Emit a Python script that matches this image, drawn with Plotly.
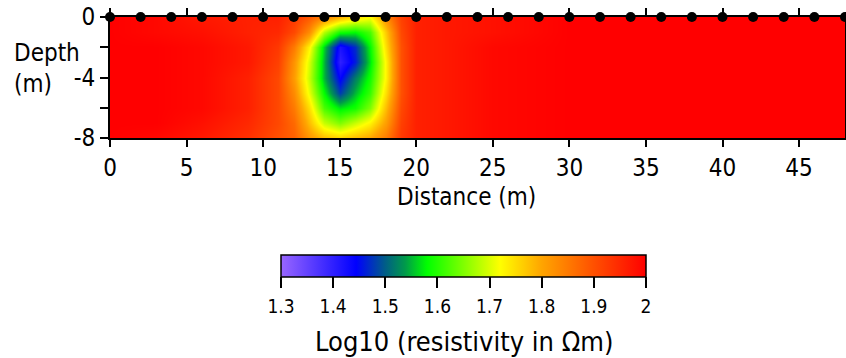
import plotly.graph_objects as go

# Inverted resistivity section (log10 of resistivity in ohm-m)
distance_nodes = [0, 3, 6, 9, 11, 12, 13, 14, 15, 16, 17, 18, 19, 20, 22, 25, 30, 36, 42, 48]
depth_nodes = [0, -1, -2, -3, -4, -5, -6, -7, -8]

log_rho_d0 = [2.0, 1.99, 1.97, 1.96, 1.96, 1.93, 1.89, 1.84, 1.79, 1.75, 1.72, 1.83, 1.92, 1.96, 1.97, 1.98, 2.0, 2.0, 2.0, 2.0]
log_rho_d1 = [2.0, 1.99, 1.98, 1.96, 1.95, 1.91, 1.83, 1.68, 1.59, 1.58, 1.62, 1.77, 1.91, 1.96, 1.97, 1.98, 2.0, 2.0, 2.0, 2.0]
log_rho_d2 = [2.0, 2.0, 1.99, 1.97, 1.93, 1.85, 1.73, 1.56, 1.42, 1.47, 1.58, 1.75, 1.90, 1.96, 1.97, 1.99, 2.0, 2.0, 2.0, 2.0]
log_rho_d3 = [2.0, 2.0, 1.99, 1.97, 1.92, 1.82, 1.70, 1.55, 1.40, 1.46, 1.57, 1.73, 1.90, 1.96, 1.97, 1.99, 2.0, 2.0, 2.0, 2.0]
log_rho_d4 = [2.0, 2.0, 1.99, 1.96, 1.91, 1.81, 1.69, 1.55, 1.44, 1.52, 1.59, 1.73, 1.90, 1.96, 1.97, 1.99, 2.0, 2.0, 2.0, 2.0]
log_rho_d5 = [2.0, 2.0, 1.99, 1.96, 1.91, 1.83, 1.71, 1.58, 1.48, 1.55, 1.61, 1.75, 1.90, 1.96, 1.97, 1.99, 2.0, 2.0, 2.0, 2.0]
log_rho_d6 = [2.0, 2.0, 1.99, 1.96, 1.91, 1.85, 1.75, 1.62, 1.57, 1.59, 1.65, 1.78, 1.91, 1.96, 1.97, 1.99, 2.0, 2.0, 2.0, 2.0]
log_rho_d7 = [2.0, 2.0, 1.98, 1.95, 1.91, 1.87, 1.78, 1.69, 1.65, 1.69, 1.73, 1.81, 1.92, 1.96, 1.97, 1.99, 2.0, 2.0, 2.0, 2.0]
log_rho_d8 = [2.0, 1.99, 1.97, 1.94, 1.90, 1.88, 1.82, 1.78, 1.76, 1.78, 1.80, 1.85, 1.93, 1.96, 1.97, 1.99, 2.0, 2.0, 2.0, 2.0]

# Electrode positions along the surface
electrode_x = [0, 2, 4, 6, 8, 10, 12, 14, 16, 18, 20, 22, 24, 26, 28, 30, 32, 34, 36, 38, 40, 42, 44, 46, 48]
electrode_y = [0] * len(electrode_x)

x_ticks = [0, 5, 10, 15, 20, 25, 30, 35, 40, 45]
y_ticks = [0, -2, -4, -6, -8]
y_tick_text = ["0", "", "-4", "", "-8"]
cb_ticks = [1.3, 1.4, 1.5, 1.6, 1.7, 1.8, 1.9, 2.0]
cb_tick_text = ["1.3", "1.4", "1.5", "1.6", "1.7", "1.8", "1.9", "2"]

z_min, z_max = 1.3, 2.0

colorscale = [
    [0.0, "#9966ff"],
    [0.206, "#0000ff"],
    [0.286, "#005e86"],
    [0.34, "#009a4a"],
    [0.40, "#00ff00"],
    [0.60, "#ffff00"],
    [0.714, "#ffa500"],
    [0.857, "#ff5000"],
    [1.0, "#ff0000"],
]

FONT = "DejaVu Sans Condensed, DejaVu Sans, sans-serif"

W, H = 846, 358
L, R, T, B = 110, 1, 17, 0
plot_w = W - L - R
plot_h = H - T - B


def px_to_paper_x(px):
    return (px - L) / plot_w


def px_to_paper_y(py):
    return (H - B - py) / plot_h


# pixel geometry of the section and the colour bar
SECTION_BOTTOM = 138
CB_LEFT, CB_RIGHT, CB_TOP = 281, 646, 255
CB_LABEL_CENTER = 308

fig = go.Figure()

fig.add_trace(go.Heatmap(
    x=distance_nodes,
    y=depth_nodes,
    z=[log_rho_d0, log_rho_d1, log_rho_d2, log_rho_d3, log_rho_d4,
       log_rho_d5, log_rho_d6, log_rho_d7, log_rho_d8],
    zmin=z_min,
    zmax=z_max,
    zsmooth="best",
    colorscale=colorscale,
    colorbar=dict(
        orientation="h",
        x=px_to_paper_x((CB_LEFT + CB_RIGHT) / 2),
        xanchor="center",
        y=px_to_paper_y(CB_TOP),
        yanchor="top",
        lenmode="pixels",
        len=CB_RIGHT - CB_LEFT,
        thickness=22,
        xpad=0,
        ypad=0,
        outlinewidth=1.5,
        outlinecolor="black",
        ticks="outside",
        ticklen=11,
        tickwidth=1.5,
        tickcolor="black",
        tickvals=cb_ticks,
        showticklabels=False,
    ),
    hoverinfo="skip",
))

fig.add_trace(go.Scatter(
    x=electrode_x,
    y=electrode_y,
    mode="markers",
    marker=dict(color="black", size=10),
    cliponaxis=False,
    showlegend=False,
    hoverinfo="skip",
))

# colour-bar value labels, placed on a scale spanning the bar
fig.add_trace(go.Scatter(
    x=cb_ticks,
    y=[0] * len(cb_ticks),
    text=cb_tick_text,
    mode="text",
    textposition="middle center",
    textfont=dict(family=FONT, size=19, color="black"),
    xaxis="x2",
    yaxis="y2",
    cliponaxis=False,
    showlegend=False,
    hoverinfo="skip",
))

fig.update_layout(
    xaxis=dict(
        range=[0, 48],
        domain=[0, 1],
        tickvals=x_ticks,
        ticks="outside",
        ticklen=7,
        tickwidth=2,
        tickcolor="black",
        showline=True,
        linecolor="black",
        linewidth=2,
        mirror="ticks",
        showgrid=False,
        zeroline=False,
        tickfont=dict(family=FONT, size=24, color="black"),
    ),
    yaxis=dict(
        range=[-8, 0],
        domain=[px_to_paper_y(SECTION_BOTTOM), 1],
        tickvals=y_ticks,
        ticktext=y_tick_text,
        ticks="outside",
        ticklen=8,
        tickwidth=2,
        tickcolor="black",
        showline=True,
        linecolor="black",
        linewidth=2,
        mirror=True,
        showgrid=False,
        zeroline=False,
        tickfont=dict(family=FONT, size=24, color="black"),
    ),
    xaxis2=dict(
        anchor="y2",
        domain=[px_to_paper_x(CB_LEFT), px_to_paper_x(CB_RIGHT)],
        range=[z_min, z_max],
        visible=False,
    ),
    yaxis2=dict(
        anchor="x2",
        domain=[px_to_paper_y(CB_LABEL_CENTER + 10), px_to_paper_y(CB_LABEL_CENTER - 10)],
        range=[-1, 1],
        visible=False,
    ),
)

fig.add_annotation(
    text="Depth<br>(m)", xref="paper", yref="paper",
    x=px_to_paper_x(12), y=px_to_paper_y(68), xanchor="left", yanchor="middle",
    align="left", showarrow=False,
    font=dict(family=FONT, size=24, color="black"),
)
fig.add_annotation(
    text="Distance (m)", xref="paper", yref="paper",
    x=px_to_paper_x(466), y=px_to_paper_y(197), xanchor="center", yanchor="middle",
    showarrow=False,
    font=dict(family=FONT, size=24, color="black"),
)
fig.add_annotation(
    text="Log10 (resistivity in Ωm)", xref="paper", yref="paper",
    x=px_to_paper_x(464), y=px_to_paper_y(341), xanchor="center", yanchor="middle",
    showarrow=False,
    font=dict(family=FONT, size=27, color="black"),
)

fig.update_layout(
    width=W,
    height=H,
    margin=dict(l=L, r=R, t=T, b=B, autoexpand=False),
    paper_bgcolor="white",
    plot_bgcolor="rgba(0,0,0,0)",
    showlegend=False,
)

fig.write_html("out.html")
